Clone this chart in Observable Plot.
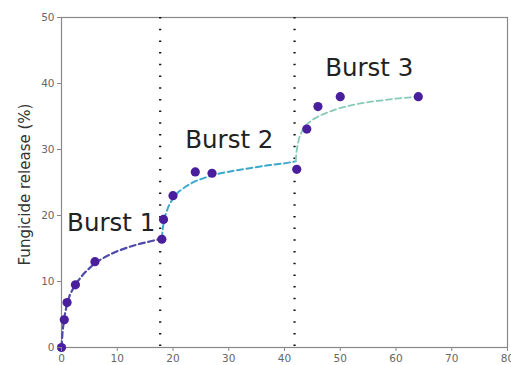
<!DOCTYPE html>
<html><head><meta charset="utf-8">
<script src="https://cdn.jsdelivr.net/npm/d3@7"></script>
<script src="https://cdn.jsdelivr.net/npm/@observablehq/plot@0.6"></script>
<style>body{margin:0;background:#fff;} #chart{width:511px;height:365px;overflow:hidden;}</style>
</head><body><div id="chart"></div>
<script>
const obsX = [0, 0.5, 1, 2.5, 6, 18, 18.3, 20, 24, 27, 42.2, 44, 46, 50, 64];
const obsY = [0, 4.2, 6.8, 9.5, 13, 16.4, 19.4, 23, 26.6, 26.4, 27, 33.1, 36.5, 38, 38];

const fit1X = [0, 0.2, 0.5, 1, 1.5, 2.5, 4, 6, 8, 10, 12, 14, 16, 18];
const fit1Y = [0, 2.5, 4.6, 6.6, 8, 9.6, 11.2, 12.8, 13.8, 14.6, 15.2, 15.7, 16.1, 16.5];
const fit2X = [18, 18.2, 18.6, 19.2, 20, 21, 22.5, 24, 26, 28, 31, 34, 37, 40, 42];
const fit2Y = [16.5, 18.3, 20, 21.4, 22.6, 23.6, 24.5, 25.2, 25.8, 26.3, 26.8, 27.2, 27.6, 27.9, 28.2];
const fit3X = [42, 42.2, 42.6, 43.2, 44, 45, 46.5, 48, 50, 53, 56, 60, 64];
const fit3Y = [28.2, 30, 31.7, 32.9, 33.8, 34.5, 35.2, 35.7, 36.3, 36.9, 37.3, 37.7, 38];

const burstX = [17.7, 41.8];
const labelText = ["Burst 1", "Burst 2", "Burst 3"];
const labelX = [1.0, 22.2, 47.3];
const labelY = [18.9, 31.4, 42.3];
const xTicks = [0, 10, 20, 30, 40, 50, 60, 70, 80];
const yTicks = [0, 10, 20, 30, 40, 50];

const pts = obsX.map((x, i) => ({x, y: obsY[i]}));
const f1 = fit1X.map((x, i) => ({x, y: fit1Y[i]}));
const f2 = fit2X.map((x, i) => ({x, y: fit2Y[i]}));
const f3 = fit3X.map((x, i) => ({x, y: fit3Y[i]}));
const labels = labelText.map((t, i) => ({t, x: labelX[i], y: labelY[i]}));

const chart = Plot.plot({
  width: 511, height: 365,
  marginLeft: 61, marginRight: 4, marginTop: 17, marginBottom: 18,
  style: {fontFamily: "DejaVu Sans", background: "#fff"},
  x: {domain: [0, 80], ticks: xTicks, label: null},
  y: {domain: [0, 50], ticks: yTicks, label: null},
  marks: [
    Plot.frame({stroke: "#888", strokeWidth: 1.2}),
    Plot.ruleX(burstX, {stroke: "#111", strokeWidth: 2.2, strokeDasharray: "1.5,10.2", strokeLinecap: "butt"}),
    Plot.line(f1, {x: "x", y: "y", stroke: "#4e4aa8", strokeWidth: 2.2, strokeDasharray: "6,3.5"}),
    Plot.line(f2, {x: "x", y: "y", stroke: "#3ba9cc", strokeWidth: 2, strokeDasharray: "6,3.5"}),
    Plot.line(f3, {x: "x", y: "y", stroke: "#86cbb8", strokeWidth: 1.8, strokeDasharray: "6,3.5"}),
    Plot.dot(pts, {x: "x", y: "y", r: 4.6, fill: "#4a1f9e", stroke: "none"}),
    Plot.text(labels, {x: "x", y: "y", text: "t", textAnchor: "start", fontSize: 24.5, fill: "#222"}),
    Plot.axisX({ticks: xTicks, tickSize: 4, tickPadding: 3, fontSize: 10.5, color: "#666", stroke: "#888", label: null}),
    Plot.axisY({ticks: yTicks, tickSize: 4, tickPadding: 3, fontSize: 10.5, color: "#666", stroke: "#888", label: null}),
    Plot.text(["Fungicide release (%)"], {frameAnchor: "left", dx: -36, dy: 2, rotate: -90, fontSize: 15, fill: "#333", textAnchor: "middle"})
  ]
});
document.getElementById("chart").appendChild(chart);
</script></body></html>
